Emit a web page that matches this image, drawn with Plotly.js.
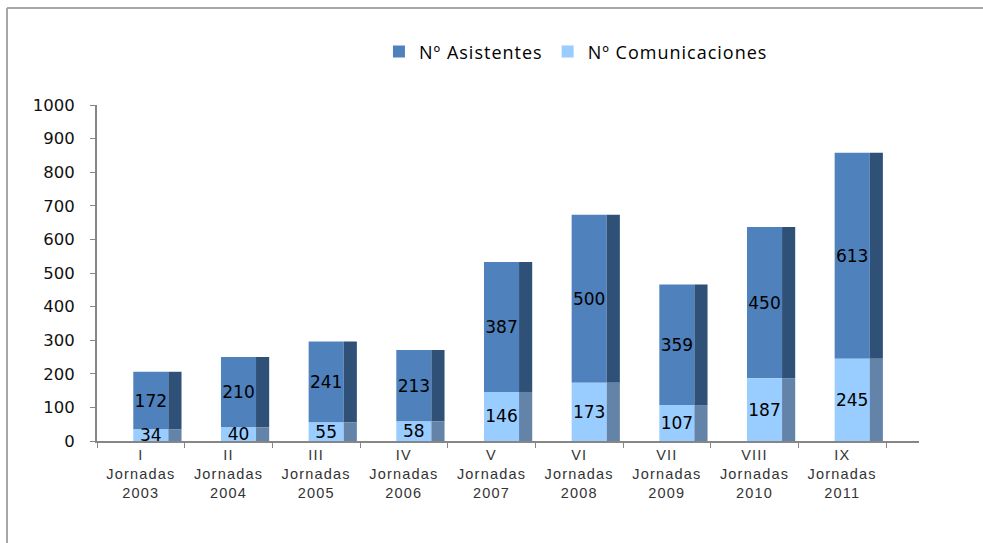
<!DOCTYPE html>
<html>
<head>
<meta charset="utf-8">
<script src="https://cdn.plot.ly/plotly-3.0.1.min.js"></script>
<style>
html,body{margin:0;padding:0;background:#fff;}
#chart{width:983px;height:543px;}
.xtick text{letter-spacing:1.2px;}
.legendtext{letter-spacing:1px;}
</style>
</head>
<body>
<div id="chart"></div>
<script>
const roman = ["I","II","III","IV","V","VI","VII","VIII","IX"];
const years = ["2003","2004","2005","2006","2007","2008","2009","2010","2011"];
const asistentes = [172,210,241,213,387,500,359,450,613];
const comunicaciones = [34,40,55,58,146,173,107,187,245];

const cats = roman.map((r,i)=> r + "<br>Jornadas<br>" + years[i]);

const frontOffset = -0.086, frontWidth = 0.40;
const sideOffset = 0.314, sideWidth = 0.15;

const labelFont = {family:"DejaVu Sans, Verdana, sans-serif", size:17, color:"#000"};

const traces = [
  {type:"bar", name:"Nº Asistentes", x:cats, y:asistentes, base:comunicaciones,
   offset:frontOffset, width:frontWidth, marker:{color:"#4F81BD"},
   text:asistentes.map(String), textposition:"inside", insidetextanchor:"middle",
   textangle:0, constraintext:"none", textfont:labelFont, cliponaxis:false, hoverinfo:"skip"},
  {type:"bar", name:"Nº Comunicaciones", x:cats, y:comunicaciones, base:0,
   offset:frontOffset, width:frontWidth, marker:{color:"#99CCFF"},
   text:comunicaciones.map(String), textposition:"inside", insidetextanchor:"middle",
   textangle:0, constraintext:"none", textfont:labelFont, cliponaxis:false, hoverinfo:"skip"},
  {type:"bar", name:"side-a", x:cats, y:asistentes, base:comunicaciones,
   offset:sideOffset, width:sideWidth, marker:{color:"#2F5178"},
   showlegend:false, hoverinfo:"skip"},
  {type:"bar", name:"side-c", x:cats, y:comunicaciones, base:0,
   offset:sideOffset, width:sideWidth, marker:{color:"#6383A8"},
   showlegend:false, hoverinfo:"skip"}
];

const layout = {
  width:983, height:543,
  margin:{l:97, r:64, t:105, b:102},
  paper_bgcolor:"#fff", plot_bgcolor:"#fff",
  barmode:"overlay",
  showlegend:true,
  legend:{orientation:"h", x:0.343, xanchor:"left", y:1.158, yanchor:"middle",
    font:{family:"Open Sans, sans-serif", size:18, color:"#000"}, bgcolor:"rgba(0,0,0,0)"},
  xaxis:{type:"category", range:[-0.5, 8.876], tickson:"boundaries",
    ticks:"outside", ticklen:5, tickcolor:"#868686", showline:true, linecolor:"#868686", linewidth:2,
    showgrid:false, zeroline:false,
    tickfont:{family:"Liberation Sans, Arial, sans-serif", size:14.5, color:"#333"}},
  yaxis:{range:[0,1000], dtick:100, ticks:"outside", ticklen:5, tickcolor:"#868686",
    ticklabelstandoff:12,
    showline:true, linecolor:"#868686", linewidth:2, showgrid:false, zeroline:false,
    tickfont:{family:"DejaVu Sans, Verdana, sans-serif", size:16.5, color:"#111"}},
  shapes:[
    {type:"line", xref:"paper", yref:"paper", x0:-0.1095, x1:1.2, y0:1.2887, y1:1.2887,
     line:{color:"#A6A6A6", width:2}},
    {type:"line", xref:"paper", yref:"paper", x0:-0.1095, x1:-0.1095, y0:-0.4, y1:1.2887,
     line:{color:"#A6A6A6", width:2}}
  ]
};

Plotly.newPlot("chart", traces, layout, {displayModeBar:false, staticPlot:true});
</script>
</body>
</html>
